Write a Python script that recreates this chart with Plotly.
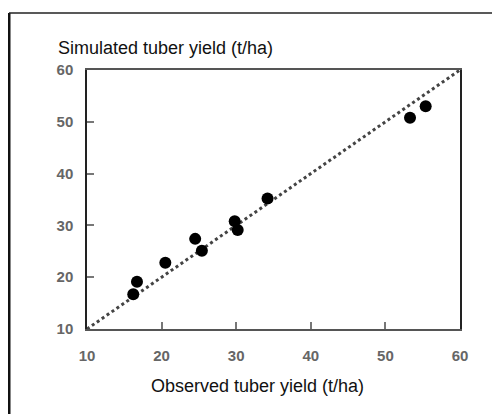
import plotly.graph_objects as go

observed = [16.2, 16.7, 20.5, 24.5, 25.4, 29.8, 30.2, 34.2, 53.3, 55.4]
simulated = [16.7, 19.1, 22.8, 27.4, 25.1, 30.8, 29.1, 35.2, 50.8, 53.0]
line_xy = [10, 60]
tick_vals = [10, 20, 30, 40, 50, 60]

OFF = 8  # page body margin
L, R, T, B = 87 - OFF, 460 - OFF, 70 - OFF, 329 - OFF
W, H = 500, 414

fig = go.Figure()
fig.add_trace(go.Scatter(x=line_xy, y=line_xy, mode="lines",
                         line=dict(color="#444", width=3, dash="dot"),
                         hoverinfo="skip", showlegend=False))
fig.add_trace(go.Scatter(x=observed, y=simulated, mode="markers",
                         marker=dict(color="black", size=12),
                         showlegend=False))

def px2paper_x(p):
    return (p - OFF - L) / (R - L)

def px2paper_y(p):
    return (B - (p - OFF)) / (B - T)

tfont = dict(size=15, color="#666", family="Liberation Sans, Arial, sans-serif", weight="bold")

fig.update_layout(
    width=W, height=H,
    margin=dict(l=L, r=W - R, t=T, b=H - B),
    paper_bgcolor="white", plot_bgcolor="white",
    font=dict(family="Liberation Sans, Arial, sans-serif"),
    xaxis=dict(range=[10, 60], tickvals=tick_vals, ticks="inside", ticklen=7,
               tickcolor="#777", tickwidth=1.5,
               showline=True, linecolor="#555", linewidth=1.5, mirror=True,
               showgrid=False, zeroline=False,
               tickfont=tfont, ticklabelstandoff=12),
    yaxis=dict(range=[10, 60], tickvals=tick_vals, ticks="inside", ticklen=7,
               tickcolor="#777", tickwidth=1.5,
               showline=True, linecolor="#222", linewidth=1.5, mirror=True,
               showgrid=False, zeroline=False,
               tickfont=tfont, ticklabelstandoff=9),
    shapes=[
        dict(type="line", xref="paper", yref="paper",
             x0=px2paper_x(9), x1=px2paper_x(9), y0=px2paper_y(13), y1=px2paper_y(420),
             line=dict(color="#111", width=3)),
        dict(type="line", xref="paper", yref="paper",
             x0=px2paper_x(9), x1=px2paper_x(500), y0=px2paper_y(13), y1=px2paper_y(13),
             line=dict(color="#222", width=1.5)),
    ],
    annotations=[
        dict(text="Simulated tuber yield (t/ha)", xref="paper", yref="paper",
             x=px2paper_x(56), y=px2paper_y(48), xanchor="left", yanchor="middle",
             showarrow=False, font=dict(size=18, color="#111")),
        dict(text="Observed tuber yield (t/ha)", xref="paper", yref="paper",
             x=px2paper_x(257), y=px2paper_y(386), xanchor="center", yanchor="middle",
             showarrow=False, font=dict(size=18, color="#111")),
    ],
)

fig.write_html("out.html")
